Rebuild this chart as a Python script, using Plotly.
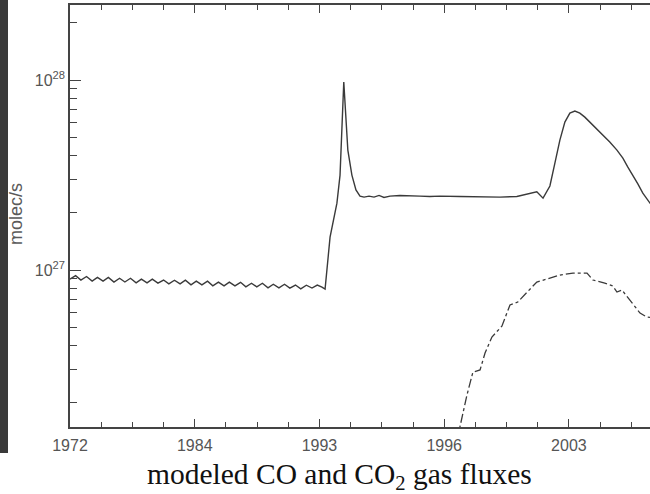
import plotly.graph_objects as go

# ---- data ----
tick_pos = [0, 4, 8, 12, 16]
tick_labels = ["1972", "1984", "1993", "1996", "2003"]
minor_pos = [1, 2, 3, 5, 6, 7, 9, 10, 11, 13, 14, 15, 17, 18]

co_x = [0.00, 0.18, 0.35, 0.53, 0.71, 0.88, 1.06, 1.23, 1.41, 1.59, 1.76, 1.94,
        2.12, 2.29, 2.47, 2.64, 2.82, 3.00, 3.17, 3.35, 3.53, 3.70, 3.88, 4.05,
        4.23, 4.41, 4.58, 4.76, 4.94, 5.11, 5.29, 5.47, 5.64, 5.82, 5.99, 6.17,
        6.35, 6.52, 6.70, 6.88, 7.05, 7.23, 7.40, 7.58, 7.76, 7.93, 8.08, 8.18,
        8.34, 8.56, 8.66, 8.78, 8.91, 9.04, 9.17, 9.30, 9.43, 9.59, 9.75, 9.91,
        10.07, 10.26, 10.58, 10.90, 11.22, 11.54, 11.86, 12.50, 13.15, 13.79,
        14.33, 14.97, 15.17, 15.39, 15.55, 15.71, 15.87, 16.03, 16.19, 16.35,
        16.51, 16.70, 16.90, 17.09, 17.31, 17.54, 17.73, 17.89, 18.05, 18.21,
        18.37, 18.60, 18.76]
co_y = [8.97e26, 9.35e26, 8.86e26, 9.25e26, 8.75e26, 9.15e26, 8.75e26, 9.15e26,
        8.65e26, 9.05e26, 8.65e26, 9.05e26, 8.56e26, 8.95e26, 8.56e26, 8.95e26,
        8.54e26, 8.86e26, 8.46e26, 8.84e26, 8.46e26, 8.84e26, 8.36e26, 8.74e26,
        8.36e26, 8.74e26, 8.26e26, 8.64e26, 8.26e26, 8.64e26, 8.26e26, 8.62e26,
        8.16e26, 8.52e26, 8.16e26, 8.52e26, 8.06e26, 8.42e26, 8.06e26, 8.42e26,
        8.04e26, 8.34e26, 7.96e26, 8.32e26, 8.04e26, 8.34e26, 8.14e26, 7.94e26,
        1.49e27, 2.25e27, 3.16e27, 9.76e27, 4.28e27, 3.16e27, 2.64e27, 2.45e27,
        2.42e27, 2.45e27, 2.42e27, 2.47e27, 2.41e27, 2.45e27, 2.47e27, 2.45e27,
        2.45e27, 2.44e27, 2.45e27, 2.44e27, 2.42e27, 2.42e27, 2.44e27, 2.58e27,
        2.39e27, 2.77e27, 3.65e27, 4.83e27, 6.01e27, 6.70e27, 6.87e27, 6.70e27,
        6.38e27, 5.94e27, 5.52e27, 5.14e27, 4.72e27, 4.28e27, 3.88e27, 3.48e27,
        3.16e27, 2.84e27, 2.54e27, 2.25e27, 2.07e27]

co2_x = [12.41, 12.50, 12.73, 12.92, 13.15, 13.31, 13.53, 13.85, 14.11, 14.36,
         14.65, 14.97, 15.29, 15.71, 16.13, 16.58, 16.77, 17.15, 17.41, 17.54,
         17.70, 18.02, 18.28, 18.50, 18.76]
co2_y = [1.27e26, 1.49e26, 2.20e26, 2.90e26, 2.98e26, 3.66e26, 4.44e26, 5.07e26,
         6.55e26, 6.79e26, 7.66e26, 8.65e26, 8.97e26, 9.41e26, 9.64e26, 9.64e26,
         8.86e26, 8.54e26, 8.24e26, 7.66e26, 7.85e26, 6.70e26, 5.94e26, 5.66e26,
         5.60e26]

y_major = [1e27, 1e28]
y_labels = ["10<sup>27</sup>", "10<sup>28</sup>"]
y_minor = [2e26, 3e26, 4e26, 5e26, 6e26, 7e26, 8e26, 9e26,
           2e27, 3e27, 4e27, 5e27, 6e27, 7e27, 8e27, 9e27, 2e28]

# ---- figure ----
fig = go.Figure()
fig.add_trace(go.Scatter(x=co_x, y=co_y, mode="lines",
                         line=dict(color="#3a3a3a", width=1.4), showlegend=False))
fig.add_trace(go.Scatter(x=co2_x, y=co2_y, mode="lines",
                         line=dict(color="#3a3a3a", width=1.3, dash="dashdot"),
                         showlegend=False))

axis_col = "#444444"
fig.update_xaxes(range=[0, 18.6], showgrid=False, zeroline=False,
                 showline=True, linecolor=axis_col, linewidth=1.5, mirror="ticks",
                 tickmode="array", tickvals=tick_pos, ticktext=tick_labels,
                 ticks="inside", ticklen=8, tickwidth=1.3, tickcolor=axis_col,
                 ticklabelstandoff=3,
                 tickfont=dict(family="Liberation Sans, Arial", size=16, color="#555555"),
                 minor=dict(tickmode="array", tickvals=minor_pos, ticks="inside",
                            ticklen=5, tickwidth=1.3, tickcolor=axis_col))
fig.update_yaxes(type="log", range=[26.174, 28.395], showgrid=False, zeroline=False,
                 showline=True, linecolor=axis_col, linewidth=1.5, mirror=False,
                 tickmode="array", tickvals=y_major, ticktext=y_labels,
                 ticks="inside", ticklen=11, tickwidth=1.3, tickcolor=axis_col,
                 tickfont=dict(family="Liberation Sans, Arial", size=16, color="#555555"),
                 minor=dict(tickmode="array", tickvals=y_minor, ticks="inside",
                            ticklen=7, tickwidth=1.3, tickcolor=axis_col))

fig.add_shape(type="rect", xref="paper", yref="paper",
              x0=-70/580, x1=-62/580, y0=(427-453)/422, y1=1.02,
              fillcolor="#3a3a3a", line=dict(width=0), layer="below")

fig.add_annotation(text="molec/s", xref="paper", yref="paper",
                   x=(16-70)/580, y=(427-214)/422, textangle=-90,
                   showarrow=False, xanchor="center", yanchor="middle",
                   font=dict(family="Liberation Sans, Arial", size=18, color="#5a5a5a"))
fig.add_annotation(text="modeled CO and CO<sub>2</sub> gas fluxes",
                   xref="paper", yref="paper",
                   x=(339-70)/580, y=(427-476)/422, showarrow=False,
                   xanchor="center", yanchor="middle",
                   font=dict(family="Liberation Serif, Times New Roman", size=29.5,
                             color="#111111"))

fig.update_layout(width=650, height=494,
                  margin=dict(l=70, r=0, t=5, b=67),
                  paper_bgcolor="white", plot_bgcolor="white")
fig.write_html("out.html")
